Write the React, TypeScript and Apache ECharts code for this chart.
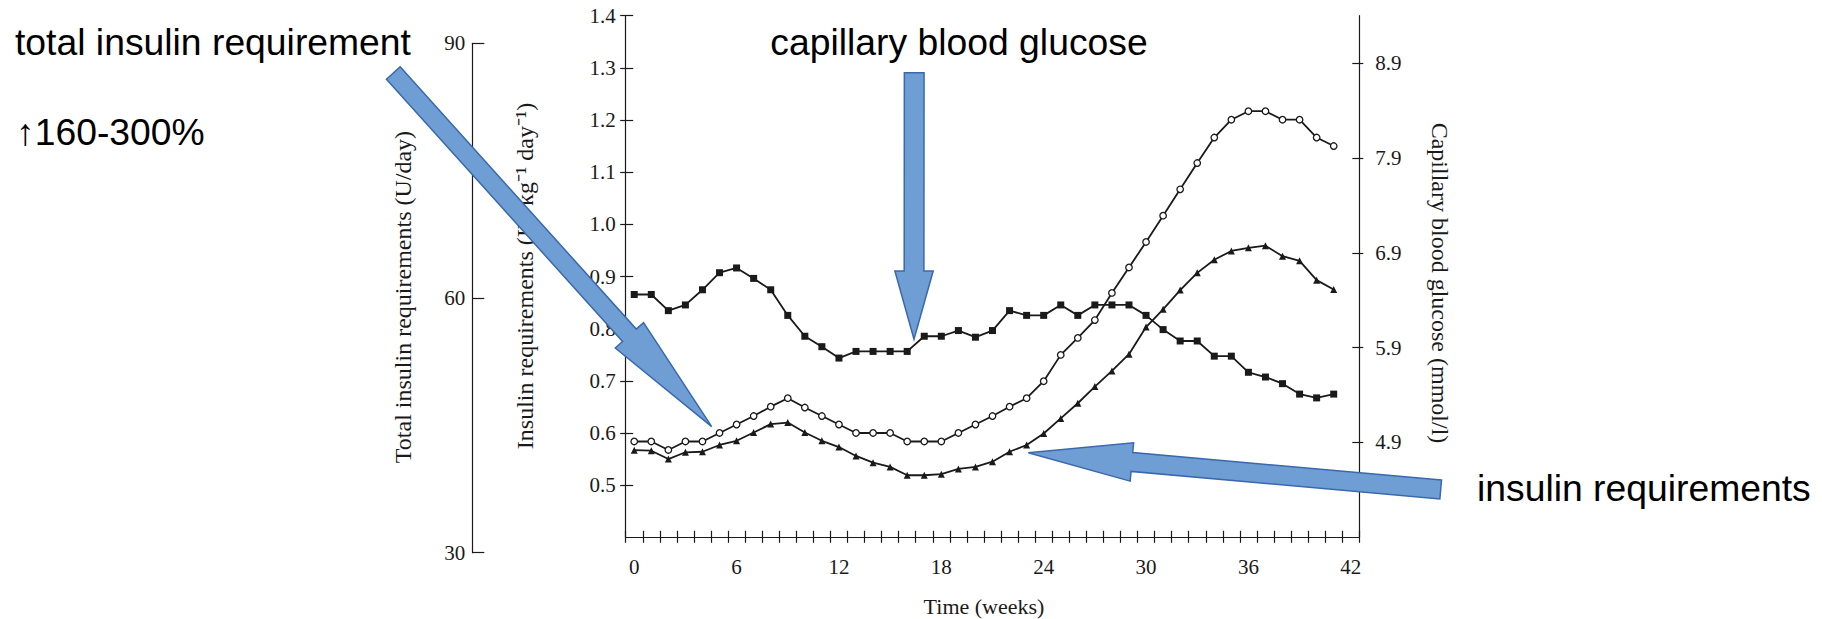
import React, { useEffect, useRef } from "react";
import * as echarts from "echarts";

// Weeks of gestation at which each value was recorded
const weeks = [
  0, 1, 2, 3, 4, 5, 6, 7, 8, 9, 10, 11, 12, 13, 14, 15, 16, 17, 18, 19, 20,
  21, 22, 23, 24, 25, 26, 27, 28, 29, 30, 31, 32, 33, 34, 35, 36, 37, 38, 39,
  40, 41,
];

// Capillary blood glucose (mmol/l), filled squares, right axis
const glucose = [
  6.46, 6.46, 6.29, 6.35, 6.51, 6.69, 6.74, 6.63, 6.51, 6.24, 6.02, 5.91, 5.79,
  5.86, 5.86, 5.86, 5.86, 6.02, 6.02, 6.08, 6.01, 6.08, 6.29, 6.24, 6.24, 6.35,
  6.24, 6.35, 6.35, 6.35, 6.24, 6.09, 5.97, 5.97, 5.81, 5.81, 5.64, 5.59, 5.52,
  5.41, 5.37, 5.41,
];

// Total insulin requirements (U/day), open circles, outer left axis
const totalInsulin = [
  43.1, 43.1, 42.1, 43.1, 43.1, 44.1, 45.1, 46.1, 47.2, 48.2, 47.1, 46.1, 45.1,
  44.1, 44.1, 44.1, 43.1, 43.1, 43.1, 44.1, 45.1, 46.1, 47.2, 48.2, 50.2, 53.3,
  55.3, 57.4, 60.6, 63.6, 66.6, 69.7, 72.8, 75.9, 78.9, 81.0, 82.0, 82.0, 81.0,
  81.0, 78.9, 77.9,
];

// Insulin requirements (IU kg-1 day-1), filled triangles, inner left axis
const insulinPerKg = [
  0.567, 0.566, 0.55, 0.563, 0.564, 0.577, 0.585, 0.601, 0.617, 0.62, 0.601,
  0.585, 0.573, 0.556, 0.543, 0.535, 0.519, 0.519, 0.521, 0.531, 0.535, 0.545,
  0.564, 0.577, 0.599, 0.628, 0.657, 0.689, 0.719, 0.751, 0.803, 0.837, 0.874,
  0.907, 0.932, 0.949, 0.955, 0.959, 0.939, 0.93, 0.893, 0.875,
];

// Axis tick marks and tick labels
const weekLabels = [0, 6, 12, 18, 24, 30, 36, 42];
const weekTicks = [
  -0.5, 0.5, 1.5, 2.5, 3.5, 4.5, 5.5, 6.5, 7.5, 8.5, 9.5, 10.5, 11.5, 12.5,
  13.5, 14.5, 15.5, 16.5, 17.5, 18.5, 19.5, 20.5, 21.5, 22.5, 23.5, 24.5, 25.5,
  26.5, 27.5, 28.5, 29.5, 30.5, 31.5, 32.5, 33.5, 34.5, 35.5, 36.5, 37.5, 38.5,
  39.5, 40.5, 41.5, 42.5,
];
const perKgTicks = [0.5, 0.6, 0.7, 0.8, 0.9, 1.0, 1.1, 1.2, 1.3, 1.4];
const glucoseTicks = [4.9, 5.9, 6.9, 7.9, 8.9];

const SERIF = "'Liberation Serif', 'Times New Roman', serif";
const SANS = "'Liberation Sans', Arial, sans-serif";
const INK = "#1a1a1a";
const ARROW_FILL = "#6f9ed4";
const ARROW_STROKE = "#3a68ad";
const CALLOUT_SIZE = 37.3;

type Pt = [number, number];

// Block arrow outline: rectangular shaft from tail to head base, triangular head to tip
function blockArrow(tail: Pt, tip: Pt, shaftW: number, headW: number, headL: number): Pt[] {
  const dx = tip[0] - tail[0];
  const dy = tip[1] - tail[1];
  const len = Math.hypot(dx, dy);
  const ux = dx / len;
  const uy = dy / len;
  const nx = -uy;
  const ny = ux;
  const bx = tip[0] - ux * headL;
  const by = tip[1] - uy * headL;
  const s = shaftW / 2;
  const h = headW / 2;
  return [
    [tail[0] + nx * s, tail[1] + ny * s],
    [bx + nx * s, by + ny * s],
    [bx + nx * h, by + ny * h],
    [tip[0], tip[1]],
    [bx - nx * h, by - ny * h],
    [bx - nx * s, by - ny * s],
    [tail[0] - nx * s, tail[1] - ny * s],
  ];
}

function arrow(points: Pt[]) {
  return {
    type: "polygon",
    z: 100,
    shape: { points },
    style: { fill: ARROW_FILL, stroke: ARROW_STROKE, lineWidth: 1.5 },
  };
}

function pairs(values: number[]) {
  return weeks.map((w, i) => [w, values[i]]);
}

export default function App() {
  const ref = useRef<HTMLDivElement>(null);

  useEffect(() => {
    if (!ref.current) return;
    const chart = echarts.init(ref.current, undefined, { renderer: "svg" });

    const axisLine = { show: true, onZero: false, lineStyle: { color: INK, width: 1.2 } };
    const noLine = { show: false, onZero: false };
    const tickStyle = { color: INK, width: 1.2 };
    const labelStyle = { color: INK, fontFamily: SERIF, fontSize: 21 };

    const mainGrid = { left: 625.7, top: 15.7, width: 733.6, height: 521.6 };
    const totalGrid = { left: 625.7, top: 43.3, width: 733.6, height: 509.4 };

    chart.setOption({
      animation: false,
      backgroundColor: "#ffffff",
      grid: [
        { ...mainGrid, containLabel: false },
        { ...totalGrid, containLabel: false },
      ],
      xAxis: [
        {
          type: "value",
          gridIndex: 0,
          position: "bottom",
          min: -0.5,
          max: 42.5,
          axisLine,
          axisTick: { show: true, inside: true, length: 6.5, lineStyle: tickStyle, customValues: weekTicks },
          axisLabel: { ...labelStyle, margin: 19, customValues: weekLabels },
          splitLine: { show: false },
        },
        {
          type: "value",
          gridIndex: 0,
          position: "bottom",
          min: -0.5,
          max: 42.5,
          axisLine: noLine,
          axisTick: { show: true, inside: false, length: 5.5, lineStyle: tickStyle, customValues: weekTicks },
          axisLabel: { show: false },
          splitLine: { show: false },
        },
        {
          type: "value",
          gridIndex: 1,
          show: false,
          min: -0.5,
          max: 42.5,
          axisLine: noLine,
          splitLine: { show: false },
        },
      ],
      yAxis: [
        {
          type: "value",
          gridIndex: 0,
          position: "left",
          min: 0.4,
          max: 1.4,
          axisLine,
          axisTick: { show: true, inside: true, length: 7.5, lineStyle: tickStyle, customValues: perKgTicks },
          axisLabel: {
            ...labelStyle,
            margin: 10,
            customValues: perKgTicks,
            formatter: (v: number) => v.toFixed(1),
          },
          splitLine: { show: false },
        },
        {
          type: "value",
          gridIndex: 0,
          position: "left",
          min: 0.4,
          max: 1.4,
          axisLine: noLine,
          axisTick: { show: true, inside: false, length: 5.5, lineStyle: tickStyle, customValues: perKgTicks },
          axisLabel: { show: false },
          splitLine: { show: false },
        },
        {
          type: "value",
          gridIndex: 0,
          position: "right",
          min: 3.9,
          max: 9.4,
          axisLine,
          axisTick: { show: true, inside: true, length: 7, lineStyle: tickStyle, customValues: glucoseTicks },
          axisLabel: {
            ...labelStyle,
            margin: 16,
            customValues: glucoseTicks,
            formatter: (v: number) => v.toFixed(1),
          },
          splitLine: { show: false },
        },
        {
          type: "value",
          gridIndex: 0,
          position: "right",
          min: 3.9,
          max: 9.4,
          axisLine: noLine,
          axisTick: { show: true, inside: false, length: 4, lineStyle: tickStyle, customValues: glucoseTicks },
          axisLabel: { show: false },
          splitLine: { show: false },
        },
        {
          type: "value",
          gridIndex: 1,
          position: "left",
          offset: 153.4,
          min: 30,
          max: 90,
          interval: 30,
          axisLine,
          axisTick: { show: true, inside: true, length: 12, lineStyle: tickStyle },
          axisLabel: { ...labelStyle, margin: 7 },
          splitLine: { show: false },
        },
      ],
      series: [
        {
          name: "Capillary blood glucose",
          type: "line",
          xAxisIndex: 0,
          yAxisIndex: 2,
          data: pairs(glucose),
          symbol: "rect",
          symbolSize: 7,
          lineStyle: { color: INK, width: 1.8 },
          itemStyle: { color: INK },
          z: 3,
        },
        {
          name: "Total insulin requirements",
          type: "line",
          xAxisIndex: 2,
          yAxisIndex: 4,
          data: pairs(totalInsulin),
          symbol: "circle",
          symbolSize: 6.5,
          lineStyle: { color: INK, width: 1.8 },
          itemStyle: { color: "#ffffff", borderColor: INK, borderWidth: 1.3 },
          z: 3,
        },
        {
          name: "Insulin requirements",
          type: "line",
          xAxisIndex: 0,
          yAxisIndex: 0,
          data: pairs(insulinPerKg),
          symbol: "triangle",
          symbolSize: 7,
          lineStyle: { color: INK, width: 1.8 },
          itemStyle: { color: INK },
          z: 3,
        },
      ],
      graphic: [
        // axis titles
        {
          type: "text",
          x: 403,
          y: 297,
          rotation: Math.PI / 2,
          style: {
            text: "Total insulin requirements (U/day)",
            fontFamily: SERIF,
            fontSize: 24,
            fill: INK,
            align: "center",
            verticalAlign: "middle",
          },
        },
        {
          type: "text",
          x: 525,
          y: 276,
          rotation: Math.PI / 2,
          style: {
            text: "Insulin requirements (IU kg\u207B\u00B9 day\u207B\u00B9)",
            fontFamily: SERIF,
            fontSize: 24,
            fill: INK,
            align: "center",
            verticalAlign: "middle",
          },
        },
        {
          type: "text",
          x: 1440,
          y: 283,
          rotation: -Math.PI / 2,
          style: {
            text: "Capillary blood glucose (mmol/l)",
            fontFamily: SERIF,
            fontSize: 24,
            fill: INK,
            align: "center",
            verticalAlign: "middle",
          },
        },
        {
          type: "text",
          x: 984,
          y: 606,
          style: {
            text: "Time (weeks)",
            fontFamily: SERIF,
            fontSize: 22,
            fill: INK,
            align: "center",
            verticalAlign: "middle",
          },
        },
        // callout labels
        {
          type: "text",
          x: 15,
          y: 42,
          style: {
            text: "total insulin requirement",
            fontFamily: SANS,
            fontSize: CALLOUT_SIZE,
            fill: "#000000",
            align: "left",
            verticalAlign: "middle",
          },
        },
        {
          type: "text",
          x: 16,
          y: 132,
          style: {
            text: "\u2191160-300%",
            fontFamily: SANS,
            fontSize: CALLOUT_SIZE,
            fill: "#000000",
            align: "left",
            verticalAlign: "middle",
          },
        },
        {
          type: "text",
          x: 959,
          y: 42,
          style: {
            text: "capillary blood glucose",
            fontFamily: SANS,
            fontSize: CALLOUT_SIZE,
            fill: "#000000",
            align: "center",
            verticalAlign: "middle",
          },
        },
        {
          type: "text",
          x: 1477,
          y: 488,
          style: {
            text: "insulin requirements",
            fontFamily: SANS,
            fontSize: CALLOUT_SIZE,
            fill: "#000000",
            align: "left",
            verticalAlign: "middle",
          },
        },
        // callout arrows
        arrow(blockArrow([393.3, 73], [711.7, 426.7], 18.5, 38, 123)),
        arrow(blockArrow([914.2, 72.7], [914, 339.3], 19.7, 38.3, 68.3)),
        arrow(blockArrow([1440.7, 489.5], [1028.3, 452.7], 19, 38.5, 104)),
      ],
    });

    return () => {
      chart.dispose();
    };
  }, []);

  return (
    <div
      ref={ref}
      style={{ position: "fixed", left: 0, top: 0, width: 1822, height: 619, background: "#ffffff" }}
    />
  );
}
